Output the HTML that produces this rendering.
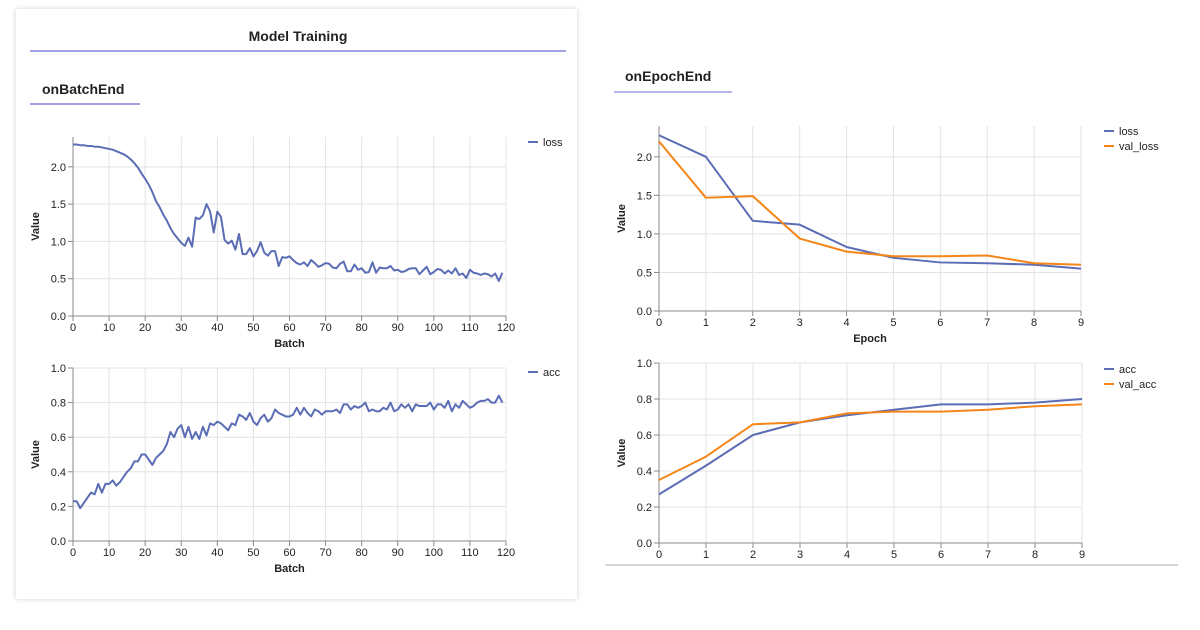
<!DOCTYPE html>
<html><head><meta charset="utf-8"><style>
body{margin:0;background:#fff;width:1200px;height:630px;overflow:hidden;font-family:"Liberation Sans",sans-serif}
svg{position:absolute;left:0;top:0}
.card{position:absolute;left:16px;top:9px;width:561px;height:590px;background:#fff;box-shadow:0 0 5px rgba(0,0,0,0.18)}
</style></head><body>
<div class="card"></div>
<svg id="s" width="1200" height="630" xmlns="http://www.w3.org/2000/svg" font-family="Liberation Sans, sans-serif">
<text x="298" y="41" text-anchor="middle" font-size="14" font-weight="bold" fill="#222">Model Training</text>
<line x1="30" y1="51" x2="566" y2="51" stroke="#6b6bd6" stroke-width="1.3"/>
<text x="42" y="94" font-size="14" font-weight="bold" fill="#222">onBatchEnd</text>
<line x1="30" y1="104" x2="140" y2="104" stroke="#6b6bd6" stroke-width="1.3"/>
<text x="625" y="81" font-size="14" font-weight="bold" fill="#222">onEpochEnd</text>
<line x1="614" y1="92" x2="732" y2="92" stroke="#8a8ae0" stroke-width="1.3"/>
<line x1="605" y1="565" x2="1178" y2="565" stroke="#ccc" stroke-width="1.5"/>
</svg>
<script>
const batchLoss=[2.30,2.30,2.29,2.29,2.28,2.28,2.27,2.27,2.26,2.25,2.24,2.23,2.21,2.19,2.17,2.14,2.10,2.05,1.99,1.91,1.84,1.76,1.66,1.54,1.46,1.36,1.28,1.18,1.10,1.04,0.98,0.94,1.05,0.93,1.32,1.30,1.35,1.50,1.40,1.12,1.40,1.33,1.02,0.97,1.01,0.89,1.10,0.83,0.83,0.91,0.80,0.87,0.99,0.85,0.81,0.87,0.87,0.67,0.79,0.78,0.80,0.75,0.71,0.69,0.72,0.67,0.75,0.71,0.66,0.68,0.71,0.70,0.65,0.64,0.70,0.73,0.60,0.60,0.69,0.62,0.64,0.58,0.59,0.72,0.58,0.65,0.64,0.64,0.67,0.61,0.62,0.59,0.60,0.63,0.64,0.64,0.56,0.61,0.66,0.56,0.59,0.63,0.62,0.57,0.61,0.57,0.64,0.55,0.57,0.51,0.62,0.58,0.57,0.55,0.57,0.56,0.53,0.57,0.47,0.58];
const batchAcc=[0.23,0.23,0.19,0.22,0.25,0.28,0.27,0.33,0.28,0.33,0.33,0.35,0.32,0.34,0.37,0.40,0.42,0.46,0.46,0.50,0.50,0.47,0.44,0.48,0.50,0.52,0.56,0.63,0.60,0.65,0.67,0.60,0.66,0.59,0.63,0.59,0.66,0.61,0.68,0.67,0.69,0.68,0.66,0.64,0.68,0.67,0.73,0.72,0.70,0.74,0.69,0.67,0.71,0.73,0.69,0.71,0.76,0.74,0.73,0.72,0.72,0.73,0.77,0.73,0.77,0.74,0.72,0.76,0.75,0.73,0.75,0.75,0.75,0.76,0.74,0.79,0.79,0.76,0.78,0.77,0.78,0.80,0.75,0.76,0.75,0.75,0.77,0.76,0.80,0.75,0.76,0.79,0.77,0.79,0.75,0.79,0.78,0.78,0.78,0.80,0.76,0.79,0.79,0.77,0.81,0.75,0.79,0.77,0.81,0.79,0.77,0.78,0.80,0.81,0.81,0.82,0.80,0.80,0.84,0.80];
const epochLoss=[2.28,2.00,1.17,1.12,0.83,0.69,0.63,0.62,0.60,0.55];
const epochValLoss=[2.20,1.47,1.49,0.94,0.77,0.71,0.71,0.72,0.62,0.60];
const epochAcc=[0.27,0.43,0.60,0.67,0.71,0.74,0.77,0.77,0.78,0.80];
const epochValAcc=[0.35,0.48,0.66,0.67,0.72,0.73,0.73,0.74,0.76,0.77];
const batchTicks=[0,10,20,30,40,50,60,70,80,90,100,110,120];
const epochTicks=[0,1,2,3,4,5,6,7,8,9];
const lossYTicks=[0,0.5,1.0,1.5,2.0];
const accYTicks=[0,0.2,0.4,0.6,0.8,1.0];

const NS="http://www.w3.org/2000/svg",svg=document.getElementById('s');
const BLUE="#5b6db5",ORANGE="#f58518";
function mk(tag,attrs,parent){const e=document.createElementNS(NS,tag);for(const k in attrs)e.setAttribute(k,attrs[k]);(parent||svg).appendChild(e);return e;}
function chart(name,c,series,xt,yt,xTitle){
  const g=mk('g',{});
  
  
  const X=v=>c.x0+(v-c.xmin)/(c.xmax-c.xmin)*(c.x1-c.x0);
  const Y=v=>c.y0-(v/c.ymax)*(c.y0-c.yt);
  xt.forEach(t=>{const l=mk('line',{x1:X(t),x2:X(t),y1:c.yt,y2:c.y0,stroke:'#e3e3e3'},g);
    
    
    mk('line',{x1:X(t),x2:X(t),y1:c.y0,y2:c.y0+5,stroke:'#888'},g);
    const tx=mk('text',{x:X(t),y:c.y0+15,'text-anchor':'middle','font-size':11,fill:'#222'},g);tx.textContent=t;
    
    });
  yt.forEach(t=>{const l=mk('line',{x1:c.x0,x2:c.x1,y1:Y(t),y2:Y(t),stroke:'#e3e3e3'},g);
    
    
    mk('line',{x1:c.x0-5,x2:c.x0,y1:Y(t),y2:Y(t),stroke:'#888'},g);
    const tx=mk('text',{x:c.x0-7,y:Y(t)+4,'text-anchor':'end','font-size':11,fill:'#222'},g);tx.textContent=t.toFixed(1);
    
    });
  mk('line',{x1:c.x0,x2:c.x1,y1:c.y0,y2:c.y0,stroke:'#888'},g);
  mk('line',{x1:c.x0,x2:c.x0,y1:c.yt,y2:c.y0,stroke:'#888'},g);
  const yl=mk('text',{transform:`translate(${c.x0-34},${(c.yt+c.y0)/2}) rotate(-90)`,'text-anchor':'middle','font-size':11,'font-weight':'bold',fill:'#222'},g);yl.textContent='Value';
  
  
  if(xTitle){const xl=mk('text',{x:(c.x0+c.x1)/2,y:c.y0+31,'text-anchor':'middle','font-size':11,'font-weight':'bold',fill:'#222'},g);xl.textContent=xTitle;
    
    }
  series.forEach((s,i)=>{
    const p=mk('polyline',{points:s.data.map((v,j)=>X(j)+','+Y(v)).join(' '),fill:'none',stroke:s.color,'stroke-width':2,'stroke-linejoin':'round'},g);
    
    
    const ly=c.ly+i*15;
    mk('line',{x1:c.lx,x2:c.lx+10,y1:ly,y2:ly,stroke:s.color,'stroke-width':2},g);
    const lt=mk('text',{x:c.lx+15,y:ly+4,'font-size':11,fill:'#222'},g);lt.textContent=s.name;
    
    
  });
}
chart('batch-loss-chart',{x0:73,x1:506,xmin:0,xmax:120,y0:316,yt:137,ymax:2.4,lx:528,ly:142},[{name:'loss',data:batchLoss,color:BLUE}],batchTicks,lossYTicks,'Batch');
chart('batch-acc-chart',{x0:73,x1:506,xmin:0,xmax:120,y0:541,yt:368,ymax:1.0,lx:528,ly:372},[{name:'acc',data:batchAcc,color:BLUE}],batchTicks,accYTicks,'Batch');
chart('epoch-loss-chart',{x0:659,x1:1081,xmin:0,xmax:9,y0:311,yt:126,ymax:2.4,lx:1104,ly:131},[{name:'loss',data:epochLoss,color:BLUE},{name:'val_loss',data:epochValLoss,color:ORANGE}],epochTicks,lossYTicks,'Epoch');
chart('epoch-acc-chart',{x0:659,x1:1082,xmin:0,xmax:9,y0:543,yt:363,ymax:1.0,lx:1104,ly:369},[{name:'acc',data:epochAcc,color:BLUE},{name:'val_acc',data:epochValAcc,color:ORANGE}],epochTicks,accYTicks,null);
</script>
</body></html>
